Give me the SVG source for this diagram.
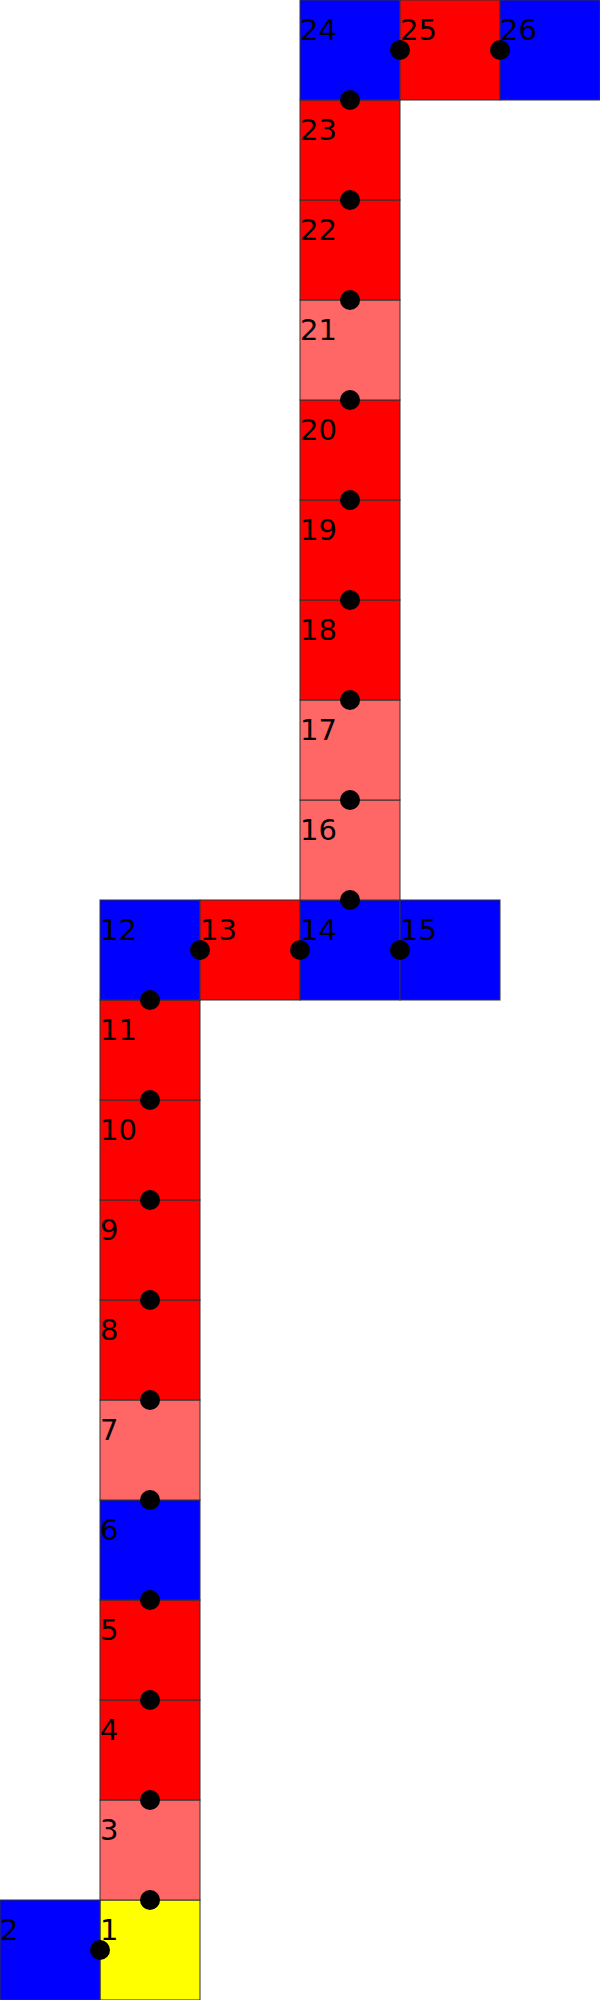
<svg xmlns="http://www.w3.org/2000/svg" width="600" height="2000" viewBox="0 0 600 2000">
<style>
rect{stroke:#333;stroke-width:1}
.b{fill:#0000ff}.r{fill:#ff0000}.l{fill:#ff6666}.y{fill:#ffff00}
text{font-family:"DejaVu Sans",sans-serif;font-size:29px;fill:#000}
circle{fill:#000}
</style>
<g id="n1"><rect class="y" x="100" y="1900" width="100" height="100"/><text x="100" y="1940">1</text></g>
<g id="n2"><rect class="b" x="0" y="1900" width="100" height="100"/><text x="0" y="1940">2</text></g>
<g id="n3"><rect class="l" x="100" y="1800" width="100" height="100"/><text x="100" y="1840">3</text></g>
<g id="n4"><rect class="r" x="100" y="1700" width="100" height="100"/><text x="100" y="1740">4</text></g>
<g id="n5"><rect class="r" x="100" y="1600" width="100" height="100"/><text x="100" y="1640">5</text></g>
<g id="n6"><rect class="b" x="100" y="1500" width="100" height="100"/><text x="100" y="1540">6</text></g>
<g id="n7"><rect class="l" x="100" y="1400" width="100" height="100"/><text x="100" y="1440">7</text></g>
<g id="n8"><rect class="r" x="100" y="1300" width="100" height="100"/><text x="100" y="1340">8</text></g>
<g id="n9"><rect class="r" x="100" y="1200" width="100" height="100"/><text x="100" y="1240">9</text></g>
<g id="n10"><rect class="r" x="100" y="1100" width="100" height="100"/><text x="100" y="1140">10</text></g>
<g id="n11"><rect class="r" x="100" y="1000" width="100" height="100"/><text x="100" y="1040">11</text></g>
<g id="n12"><rect class="b" x="100" y="900" width="100" height="100"/><text x="100" y="940">12</text></g>
<g id="n13"><rect class="r" x="200" y="900" width="100" height="100"/><text x="200" y="940">13</text></g>
<g id="n14"><rect class="b" x="300" y="900" width="100" height="100"/><text x="300" y="940">14</text></g>
<g id="n15"><rect class="b" x="400" y="900" width="100" height="100"/><text x="400" y="940">15</text></g>
<g id="n16"><rect class="l" x="300" y="800" width="100" height="100"/><text x="300" y="840">16</text></g>
<g id="n17"><rect class="l" x="300" y="700" width="100" height="100"/><text x="300" y="740">17</text></g>
<g id="n18"><rect class="r" x="300" y="600" width="100" height="100"/><text x="300" y="640">18</text></g>
<g id="n19"><rect class="r" x="300" y="500" width="100" height="100"/><text x="300" y="540">19</text></g>
<g id="n20"><rect class="r" x="300" y="400" width="100" height="100"/><text x="300" y="440">20</text></g>
<g id="n21"><rect class="l" x="300" y="300" width="100" height="100"/><text x="300" y="340">21</text></g>
<g id="n22"><rect class="r" x="300" y="200" width="100" height="100"/><text x="300" y="240">22</text></g>
<g id="n23"><rect class="r" x="300" y="100" width="100" height="100"/><text x="300" y="140">23</text></g>
<g id="n24"><rect class="b" x="300" y="0" width="100" height="100"/><text x="300" y="40">24</text></g>
<g id="n25"><rect class="r" x="400" y="0" width="100" height="100"/><text x="400" y="40">25</text></g>
<g id="n26"><rect class="b" x="500" y="0" width="100" height="100"/><text x="500" y="40">26</text></g>
<g id="connectors">
<circle cx="100" cy="1950" r="10"/>
<circle cx="150" cy="1900" r="10"/>
<circle cx="150" cy="1800" r="10"/>
<circle cx="150" cy="1700" r="10"/>
<circle cx="150" cy="1600" r="10"/>
<circle cx="150" cy="1500" r="10"/>
<circle cx="150" cy="1400" r="10"/>
<circle cx="150" cy="1300" r="10"/>
<circle cx="150" cy="1200" r="10"/>
<circle cx="150" cy="1100" r="10"/>
<circle cx="150" cy="1000" r="10"/>
<circle cx="200" cy="950" r="10"/>
<circle cx="300" cy="950" r="10"/>
<circle cx="400" cy="950" r="10"/>
<circle cx="350" cy="900" r="10"/>
<circle cx="350" cy="800" r="10"/>
<circle cx="350" cy="700" r="10"/>
<circle cx="350" cy="600" r="10"/>
<circle cx="350" cy="500" r="10"/>
<circle cx="350" cy="400" r="10"/>
<circle cx="350" cy="300" r="10"/>
<circle cx="350" cy="200" r="10"/>
<circle cx="350" cy="100" r="10"/>
<circle cx="400" cy="50" r="10"/>
<circle cx="500" cy="50" r="10"/>
</g>
</svg>
